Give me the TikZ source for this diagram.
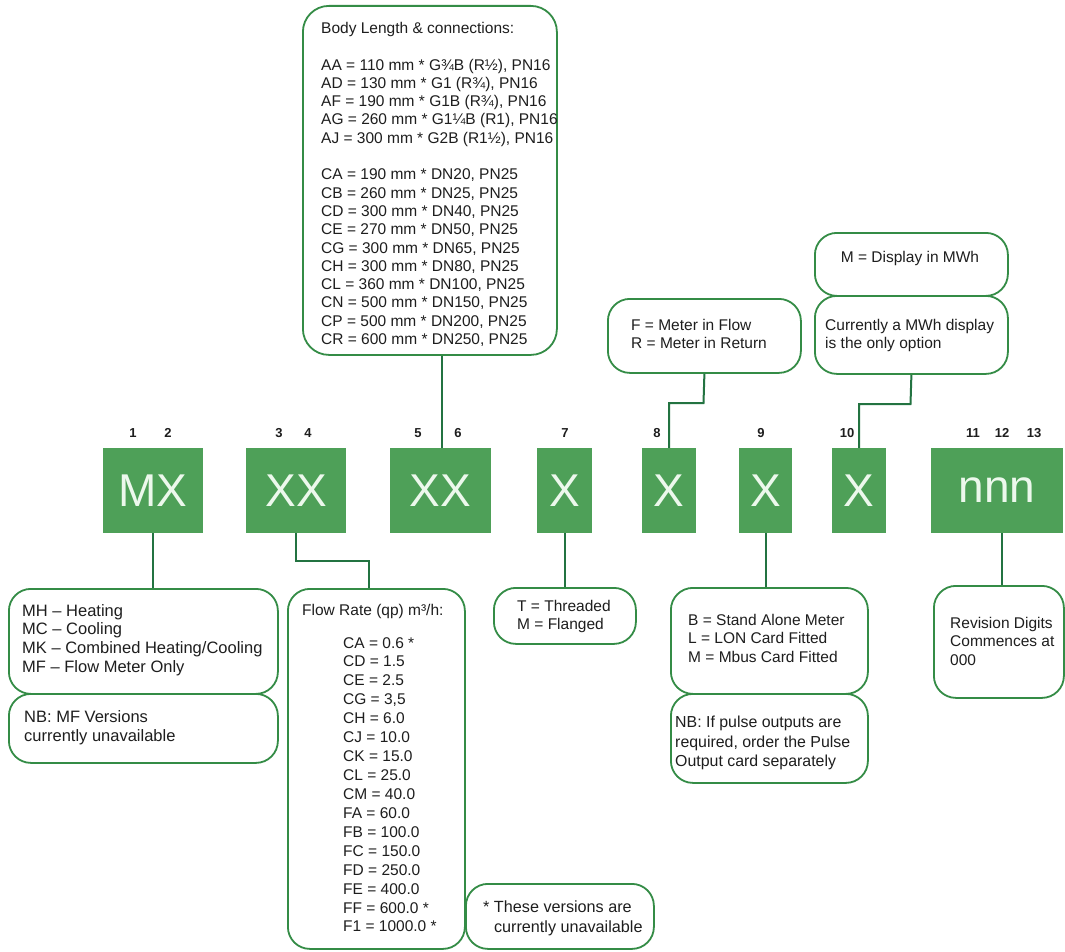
\documentclass[tikz,border=0pt]{standalone}
\usepackage{fontspec}
\setmainfont{Liberation Sans}
\definecolor{gfill}{RGB}{78,160,88}
\definecolor{gline}{RGB}{52,140,70}
\definecolor{gconn}{RGB}{35,115,65}
\definecolor{ink}{RGB}{30,30,30}
\definecolor{codetext}{RGB}{236,248,236}
\tikzset{
  code/.style={fill=gfill, draw=none, inner sep=0pt, text=codetext, minimum height=85pt, font=\fontsize{46}{46}\selectfont},
  frame/.style={draw=gline, line width=1.8pt, rounded corners=22pt, inner sep=0pt, anchor=north west},
  txt/.style={inner sep=0pt, anchor=north west, align=left, text=ink, font=\fontsize{15.5}{18.5}\selectfont},
  num/.style={inner sep=0pt, text=ink, font=\bfseries\fontsize{13}{13}\selectfont},
  conn/.style={draw=gconn, line width=2pt},
}
\begin{document}
\begin{tikzpicture}[x=1pt,y=-1pt]
\useasboundingbox[fill=white] (0,0) rectangle (1065,952);

% code boxes
\node[code, minimum width=100pt] (b12) at (153,490.5) {MX};
\node[code, minimum width=100pt] (b34) at (296,490.5) {XX};
\node[code, minimum width=101pt] (b56) at (440.5,490.5) {XX};
\node[code, minimum width=55pt] (b7) at (564.5,490.5) {X};
\node[code, minimum width=54pt] (b8) at (669,490.5) {X};
\node[code, minimum width=53pt] (b9) at (765.5,490.5) {X};
\node[code, minimum width=54pt] (b10) at (859,490.5) {X};
\node[code, minimum width=132pt] (b1113) at (997,490.5) {nnn};

% position numbers
\node[num] (n1) at (133,433) {1};
\node[num] (n2) at (168,433) {2};
\node[num] (n3) at (279,433) {3};
\node[num] (n4) at (308,433) {4};
\node[num] (n5) at (418,433) {5};
\node[num] (n6) at (458,433) {6};
\node[num] (n7) at (565,433) {7};
\node[num] (n8) at (657,433) {8};
\node[num] (n9) at (761,433) {9};
\node[num] (n10) at (847,433) {10};
\node[num] (n11) at (973,433) {11};
\node[num] (n12) at (1002,433) {12};
\node[num] (n13) at (1034,433) {13};

% frames
\node[frame, minimum width=254pt, minimum height=349pt, rounded corners=26pt] (body) at (302,5) {};
\node[frame, minimum width=193pt, minimum height=74pt] (fr) at (607,298) {};
\node[frame, minimum width=193pt, minimum height=63pt] (mwh) at (814,232) {};
\node[frame, minimum width=193pt, minimum height=78pt] (cur) at (814,295) {};
\node[frame, minimum width=269pt, minimum height=105pt] (mh) at (8,588) {};
\node[frame, minimum width=269pt, minimum height=69pt] (nbmf) at (8,693) {};
\node[frame, minimum width=177pt, minimum height=360pt] (flow) at (287,588) {};
\node[frame, minimum width=188pt, minimum height=65pt] (foot) at (465,883) {};
\node[frame, minimum width=142pt, minimum height=56pt] (tm) at (493,587) {};
\node[frame, minimum width=197pt, minimum height=106pt] (bb) at (670,587) {};
\node[frame, minimum width=197pt, minimum height=89pt] (nbp) at (670,693) {};
\node[frame, minimum width=130pt, minimum height=112pt] (rev) at (933,585) {};

% texts
\node[txt, font=\fontsize{15.5}{18.3}\selectfont] (tbody) at (321,22) {Body Length \& connections:\\[18.3pt]
AA = 110 mm * G¾B (R½), PN16\\
AD = 130 mm * G1 (R¾), PN16\\
AF = 190 mm * G1B (R¾), PN16\\
AG = 260 mm * G1¼B (R1), PN16\\
AJ = 300 mm * G2B (R1½), PN16\\[18.3pt]
CA = 190 mm * DN20, PN25\\
CB = 260 mm * DN25, PN25\\
CD = 300 mm * DN40, PN25\\
CE = 270 mm * DN50, PN25\\
CG = 300 mm * DN65, PN25\\
CH = 300 mm * DN80, PN25\\
CL = 360 mm * DN100, PN25\\
CN = 500 mm * DN150, PN25\\
CP = 500 mm * DN200, PN25\\
CR = 600 mm * DN250, PN25};

\node[txt] (tfr) at (631,319) {F = Meter in Flow\\R = Meter in Return};
\node[txt, anchor=center] (tmwh) at (910,258) {M = Display in MWh};
\node[txt] (tcur) at (825,319) {Currently a MWh display\\is the only option};
\node[txt, font=\fontsize{16.5}{18.7}\selectfont] (tmh) at (22,604) {MH -- Heating\\MC -- Cooling\\MK -- Combined Heating/Cooling\\MF -- Flow Meter Only};
\node[txt, font=\fontsize{16.5}{19}\selectfont] (tnbmf) at (24,710) {NB: MF Versions\\currently unavailable};
\node[txt] (tflowt) at (302,604) {Flow Rate (qp) m³/h:};
\node[txt, font=\fontsize{15.5}{18.93}\selectfont] (tflow) at (343,637) {CA = 0.6 *\\CD = 1.5\\CE = 2.5\\CG = 3,5\\CH = 6.0\\CJ = 10.0\\CK = 15.0\\CL = 25.0\\CM = 40.0\\FA = 60.0\\FB = 100.0\\FC = 150.0\\FD = 250.0\\FE = 400.0\\FF = 600.0 *\\F1 = 1000.0 *};
\node[txt, font=\fontsize{16.2}{20}\selectfont] (tfoot) at (483,901) {* These versions are\\\phantom{*\ }currently unavailable};
\node[txt] (ttm) at (517,600) {T = Threaded\\M = Flanged};
\node[txt] (tbb) at (688,614) {B = Stand Alone Meter\\L = LON Card Fitted\\M = Mbus Card Fitted};
\node[txt, font=\fontsize{15.9}{19.5}\selectfont] (tnbp) at (675,716) {NB: If pulse outputs are\\required, order the Pulse\\Output card separately};
\node[txt] (trev) at (950,617) {Revision Digits\\Commences at\\000};

% connectors
\draw[conn] ([xshift=1.5pt]b56.north) -- ([xshift=1.5pt]b56.north |- body.south);
\coordinate (k8) at (703.5,403);
\draw[conn] (b8.north) |- (k8) -- (fr.south);
\coordinate (k10) at (910.5,404);
\draw[conn] (b10.north) |- (k10) -- (cur.south);
\coordinate (k4) at (369,561);
\draw[conn] (b34.south) |- (k4) -- (k4 |- flow.north);
\draw[conn] (b12.south) -- (b12.south |- mh.north);
\draw[conn] (b7.south) -- (b7.south |- tm.north);
\draw[conn] (b9.south) -- (b9.south |- bb.north);
\draw[conn] ([xshift=5pt]b1113.south) -- ([xshift=5pt]b1113.south |- rev.north);
\end{tikzpicture}
\end{document}
